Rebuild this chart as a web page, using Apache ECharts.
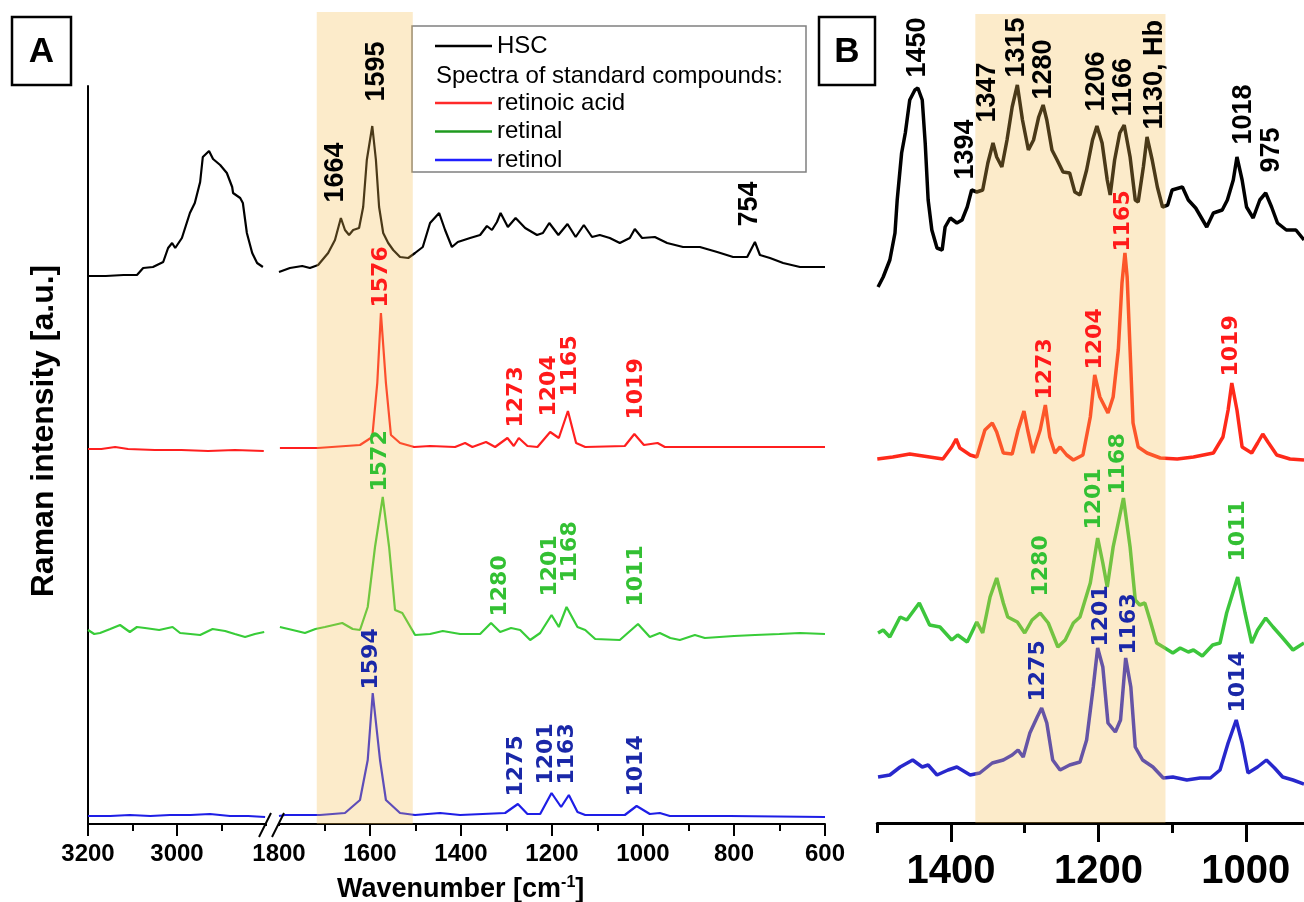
<!DOCTYPE html>
<html><head><meta charset="utf-8">
<script src="https://cdn.jsdelivr.net/npm/echarts/dist/echarts.min.js"></script>
<style>html,body{margin:0;padding:0;background:#fff}#c{width:1304px;height:902px}</style>
</head><body><div id="c"></div>
<script>
// ---------- data (wavenumber [cm-1], intensity [a.u.]) ----------
// Panel A, high-wavenumber segment (3200-2800)
const hscHiA = [[3200,548],[3160,548],[3120,549],[3090,549],[3076,556],[3054,557],[3031,562],[3020,576],[3011,581],[3004,576],[2989,586],[2971,611],[2960,621],[2948,642],[2942,667],[2928,673],[2919,665],[2903,659],[2888,651],[2876,637],[2874,631],[2858,626],[2852,621],[2843,591],[2831,571],[2820,561],[2807,557]];
const raHiA = [[3200,375],[3170,375],[3139,377],[3110,375],[3050,374],[2990,374],[2930,373],[2870,374],[2805,373]];
const rlHiA = [[3200,194],[3186,190],[3173,191],[3150,195],[3128,199],[3106,192],[3090,197],[3072,196],[3040,194],[3010,197],[2993,191],[2970,190],[2948,189],[2920,195],[2892,193],[2870,190],[2847,187],[2825,190],[2804,192]];
const roHiA = [[3200,8],[3150,8],[3106,9],[3060,8],[3016,9],[2970,9],[2926,10],[2881,8],[2840,8],[2802,7]];
// Panel A, fingerprint segment (1800-600)
const hscLoA = [[1800,552],[1776,556],[1749,558],[1732,556],[1714,559],[1692,571],[1677,584],[1664,606],[1655,594],[1646,589],[1637,594],[1624,596],[1615,617],[1607,664],[1595,698],[1587,664],[1580,617],[1571,591],[1560,581],[1549,574],[1534,567],[1516,566],[1501,571],[1484,577],[1468,601],[1448,611],[1435,594],[1420,577],[1407,582],[1380,586],[1358,589],[1343,598],[1332,594],[1321,602],[1313,611],[1297,597],[1280,606],[1259,596],[1233,589],[1220,591],[1206,601],[1186,589],[1166,600],[1148,587],[1130,599],[1112,587],[1095,589],[1073,586],[1051,581],[1029,586],[1018,595],[1002,586],[974,587],[947,581],[912,577],[875,577],[837,572],[802,567],[771,567],[754,582],[743,569],[721,566],[692,561],[655,557],[600,557]];
const raLoA = [[1798,376],[1715,376],[1622,379],[1595,387],[1584,441],[1576,511],[1565,441],[1554,389],[1534,381],[1503,377],[1468,378],[1413,377],[1391,381],[1375,377],[1345,382],[1325,377],[1298,386],[1284,378],[1273,386],[1254,378],[1232,377],[1204,392],[1185,386],[1165,413],[1147,381],[1127,377],[1040,378],[1019,390],[998,379],[968,381],[952,377],[809,377],[600,377]];
const rlLoA = [[1798,197],[1770,194],[1743,191],[1720,195],[1699,197],[1661,201],[1638,195],[1622,194],[1605,217],[1589,277],[1572,327],[1558,277],[1545,214],[1529,211],[1501,189],[1468,190],[1440,193],[1402,190],[1358,190],[1334,201],[1314,192],[1290,196],[1270,194],[1248,184],[1226,191],[1201,209],[1185,197],[1168,217],[1144,197],[1127,194],[1105,185],[1051,184],[1011,200],[985,187],[963,191],[940,186],[919,184],[886,189],[864,186],[800,188],[754,189],[700,190],[655,191],[600,190]];
const roLoA = [[1800,8],[1787,9],[1710,9],[1655,11],[1622,24],[1605,64],[1594,131],[1578,64],[1565,24],[1534,11],[1501,9],[1446,11],[1402,9],[1303,11],[1275,20],[1254,10],[1226,10],[1201,31],[1180,17],[1163,29],[1144,12],[1127,9],[1040,9],[1014,18],[985,10],[963,11],[941,8],[809,8],[600,7]];
// Panel B (1500-920)
const hscB = [[1499,536],[1492,546],[1483,563],[1476,590],[1473,623],[1467,670],[1462,690],[1456,723],[1449,733],[1445,735],[1439,723],[1435,680],[1431,623],[1426,593],[1419,575],[1412,573],[1408,596],[1401,605],[1392,600],[1385,603],[1378,616],[1372,633],[1365,631],[1357,633],[1350,660],[1343,680],[1338,666],[1331,656],[1324,683],[1317,716],[1310,738],[1303,703],[1295,673],[1288,683],[1281,706],[1275,718],[1270,703],[1263,673],[1256,663],[1248,651],[1239,650],[1232,631],[1225,628],[1216,653],[1208,683],[1202,697],[1195,680],[1188,643],[1184,628],[1178,663],[1171,690],[1165,698],[1157,666],[1150,623],[1146,621],[1139,656],[1134,686],[1127,663],[1120,636],[1113,616],[1106,618],[1100,633],[1086,636],[1078,623],[1068,615],[1053,596],[1044,610],[1032,613],[1025,623],[1017,643],[1012,666],[1005,643],[999,616],[990,605],[981,623],[973,630],[965,616],[957,600],[945,593],[932,593],[921,583]];
const raB = [[1500,364],[1479,366],[1456,369],[1429,366],[1411,364],[1399,376],[1393,384],[1388,375],[1374,368],[1365,366],[1354,393],[1344,400],[1338,391],[1329,370],[1317,369],[1309,393],[1301,412],[1296,393],[1289,370],[1279,393],[1272,418],[1266,386],[1259,370],[1252,376],[1243,368],[1234,363],[1221,368],[1211,406],[1205,448],[1198,426],[1187,410],[1180,426],[1173,473],[1168,540],[1164,570],[1161,546],[1157,473],[1153,400],[1146,376],[1134,370],[1116,365],[1093,364],[1071,366],[1044,370],[1031,386],[1024,413],[1019,440],[1012,413],[1005,376],[992,370],[984,380],[977,389],[970,381],[958,368],[940,364],[921,363]];
const rlB = [[1499,190],[1492,193],[1483,186],[1469,206],[1460,203],[1443,220],[1429,198],[1415,196],[1399,183],[1391,188],[1378,181],[1365,201],[1357,190],[1347,226],[1338,245],[1329,220],[1323,206],[1310,201],[1300,190],[1290,203],[1279,210],[1268,200],[1255,176],[1245,183],[1234,200],[1225,206],[1211,240],[1201,285],[1194,260],[1188,236],[1180,276],[1166,325],[1157,276],[1150,223],[1144,218],[1137,220],[1130,203],[1121,180],[1112,176],[1099,170],[1089,175],[1078,171],[1071,173],[1059,167],[1045,178],[1035,180],[1026,210],[1011,246],[1001,210],[992,180],[984,193],[973,205],[963,196],[951,186],[936,173],[921,180]];
const roB = [[1499,46],[1483,48],[1469,56],[1452,63],[1439,56],[1431,58],[1419,48],[1404,53],[1392,56],[1374,48],[1361,50],[1344,60],[1329,63],[1317,68],[1309,73],[1302,66],[1293,90],[1283,106],[1277,115],[1270,100],[1262,63],[1252,53],[1239,58],[1225,61],[1216,83],[1207,136],[1201,175],[1194,156],[1187,100],[1177,91],[1170,103],[1163,165],[1156,136],[1150,76],[1140,63],[1126,56],[1112,45],[1099,46],[1080,43],[1062,45],[1048,45],[1035,53],[1024,80],[1013,103],[1005,80],[997,50],[984,56],[972,63],[961,55],[950,46],[936,43],[921,39]];
// highlighted ranges
const bandA = [1717, 1506];
const bandB = [1367, 1109];
// peak annotations: [text, wavenumber, intensity at text start]
const lblA_hsc = [['1664',1675,621],['1595',1584,722],['754',765,597]];
const lblA_ra = [['1576',1575,516],['1273',1277,396],['1204',1204,407],['1165',1158,427],['1019',1013,404]];
const lblA_rl = [['1572',1576,332],['1280',1312,207],['1201',1202,227],['1168',1158,241],['1011',1013,217]];
const lblA_ro = [['1594',1596,134],['1275',1277,27],['1201',1211,39],['1163',1165,39],['1014',1013,27]];
const lblB_hsc = [['1450',1445,745],['1394',1380,643],['1347',1350,700],['1315',1310,745],['1280',1274,723],['1206',1202,711],['1166',1165,706],['1130, Hb',1123,693],['1018',1002,678],['975',964,650]];
const lblB_ra = [['1165',1165,571],['1273',1271,423],['1204',1203,453],['1019',1019,446]];
const lblB_rl = [['1280',1277,226],['1201',1205,293],['1168',1172,328],['1011',1009,261]];
const lblB_ro = [['1275',1281,121],['1201',1196,176],['1163',1158,168],['1014',1009,110]];
const names = ['HSC','retinoic acid','retinal','retinol'];

// ---------- chart ----------
const col = {hsc:'#000000', raA:'#ff1f1f', rlA:'#38cc38', roA:'#1e1ee6', raB:'#ff2a1a', rlB:'#3cc63c', roB:'#2828cc'};
const lblCol = {hsc:'#000000', ra:'#ff1a1a', rl:'#33c033', ro:'#1a28a8'};
function line(name, data, xi, color, width) {
  return {type:'line', name, data, xAxisIndex:xi, yAxisIndex:xi, symbol:'none', showSymbol:false,
    silent:true, lineStyle:{color, width}, itemStyle:{color}, z:2};
}
function labels(list, xi, color, family, size) {
  return {type:'scatter', xAxisIndex:xi, yAxisIndex:xi, z:20, silent:true, symbolSize:1,
    itemStyle:{color:'rgba(0,0,0,0)', opacity:1},
    data:list.map(l => ({name:l[0], value:[l[1], l[2]]})),
    label:{show:true, formatter:'{b}', position:[0,0], rotate:90, align:'left', verticalAlign:'middle',
      color, opacity:1, fontFamily:family, fontWeight:'bold', fontSize:size}};
}
function band(xi, r) {
  return {type:'line', xAxisIndex:xi, yAxisIndex:xi, data:[], silent:true,
    markArea:{silent:true, z:10, itemStyle:{color:'rgba(245,190,80,0.3)'}, data:[[{xAxis:r[0]},{xAxis:r[1]}]]}};
}
const tickFontA = {color:'#000', fontFamily:'Liberation Sans', fontWeight:'bold', fontSize:24};
function axA(gi, min, max, fmt) {
  return {type:'value', gridIndex:gi, inverse:true, min, max, interval:200,
    axisLine:{show:true, onZero:false, lineStyle:{color:'#000', width:2}},
    axisTick:{show:true, length:12, lineStyle:{color:'#000', width:2}},
    minorTick:{show:true, splitNumber:2, length:7, lineStyle:{color:'#000', width:2}},
    splitLine:{show:false}, minorSplitLine:{show:false},
    axisLabel:Object.assign({show:true, margin:18, showMinLabel:true, showMaxLabel:true, formatter:fmt}, tickFontA)};
}
const hidY = (gi, max) => ({type:'value', gridIndex:gi, show:false, min:0, max});
const gridBase = {containLabel:false, outerBoundsMode:'none'};
const legText = {color:'#000', fontFamily:'Liberation Sans', fontSize:24};
const blackFont = 'Liberation Sans', colFont = 'DejaVu Sans';
const legItem = (name, color) => ({name, icon:'rect', itemStyle:{color, borderWidth:0}});

const option = {
  animation:false, backgroundColor:'#fff',
  grid:[
    Object.assign({left:88, top:12, width:178, height:812}, gridBase),
    Object.assign({left:279, top:12, width:546, height:812}, gridBase),
    Object.assign({left:88, top:86, width:10, height:738}, gridBase),
    Object.assign({left:877.3, top:14, width:442.2, height:809}, gridBase),
    Object.assign({left:951, top:14, width:294.8, height:809}, gridBase)
  ],
  xAxis:[
    axA(0, 2800, 3200, v => v === 2800 ? '' : String(v)),
    axA(1, 600, 1800, v => String(v)),
    {type:'value', gridIndex:2, show:false},
    {type:'value', gridIndex:3, inverse:true, min:900, max:1500, interval:100,
      axisLine:{show:true, onZero:false, lineStyle:{color:'#000', width:3}},
      axisTick:{show:true, length:10, lineStyle:{color:'#000', width:3}},
      axisLabel:{show:false}, splitLine:{show:false}},
    {type:'value', gridIndex:4, inverse:true, min:1000, max:1400, interval:200,
      axisLine:{show:false}, axisTick:{show:true, length:19, lineStyle:{color:'#000', width:3}},
      splitLine:{show:false},
      axisLabel:{show:true, margin:29, showMinLabel:true, showMaxLabel:true, color:'#000',
        formatter:v => String(v), fontFamily:'Liberation Sans', fontWeight:'bold', fontSize:40}}
  ],
  yAxis:[
    hidY(0, 812), hidY(1, 812),
    {type:'value', gridIndex:2, min:0, max:1,
      axisLine:{show:true, lineStyle:{color:'#000', width:2}}, axisTick:{show:false},
      axisLabel:{show:false}, splitLine:{show:false},
      name:'Raman intensity [a.u.]', nameLocation:'middle', nameGap:28, nameRotate:90,
      nameTextStyle:{color:'#000', fontFamily:'Liberation Sans', fontWeight:'bold', fontSize:32, padding:[0,0,0,48]}},
    hidY(3, 809), hidY(4, 809)
  ],
  title:[{text:'Wavenumber [cm{sup|-1}]', left:332, top:870,
    textStyle:{color:'#000', fontFamily:'Liberation Sans', fontWeight:'bold', fontSize:27, lineHeight:30,
      rich:{sup:{color:'#000', fontFamily:'Liberation Sans', fontWeight:'bold', fontSize:16, lineHeight:16, verticalAlign:'top'}}}}],
  legend:[
    {data:[legItem(names[0], '#000')], left:435, top:34, orient:'vertical', padding:0,
      itemWidth:57, itemHeight:2.5, selectedMode:false, textStyle:legText},
    {data:[legItem(names[1], '#ff2a2a'), legItem(names[2], '#1f9a1f'), legItem(names[3], '#2020ff')],
      left:435, top:91, orient:'vertical', padding:0, itemGap:4.5,
      itemWidth:57, itemHeight:2.5, selectedMode:false, textStyle:legText}
  ],
  graphic:[
    {type:'rect', z:1, shape:{x:412, y:26, width:394, height:146}, style:{fill:'#fff', stroke:'#808080', lineWidth:1.5}},
    {type:'text', z:5, x:436, y:76, style:{text:'Spectra of standard compounds:', font:'24px "Liberation Sans"', fill:'#000', textVerticalAlign:'middle'}},
    {type:'rect', z:5, shape:{x:12, y:17, width:59, height:68}, style:{fill:'#fff', stroke:'#000', lineWidth:2.5}},
    {type:'text', z:6, x:41.5, y:52.5, style:{text:'A', font:'bold 35px "Liberation Sans"', fill:'#000', textAlign:'center', textVerticalAlign:'middle'}},
    {type:'rect', z:5, shape:{x:819, y:17, width:56, height:68}, style:{fill:'#fff', stroke:'#000', lineWidth:2.5}},
    {type:'text', z:6, x:847, y:52.5, style:{text:'B', font:'bold 35px "Liberation Sans"', fill:'#000', textAlign:'center', textVerticalAlign:'middle'}},
    {type:'rect', z:100, shape:{x:261, y:826, width:22, height:14}, style:{fill:'#fff'}},
    {type:'line', z:101, shape:{x1:259, y1:837, x2:271, y2:813}, style:{stroke:'#000', lineWidth:2}},
    {type:'line', z:101, shape:{x1:272, y1:837, x2:284, y2:813}, style:{stroke:'#000', lineWidth:2}}
  ],
  series:[
    line(names[0], hscHiA, 0, col.hsc, 2.2), line(names[0], hscLoA, 1, col.hsc, 2.2),
    line(names[1], raHiA, 0, col.raA, 2.2), line(names[1], raLoA, 1, col.raA, 2.2),
    line(names[2], rlHiA, 0, col.rlA, 2.2), line(names[2], rlLoA, 1, col.rlA, 2.2),
    line(names[3], roHiA, 0, col.roA, 2.2), line(names[3], roLoA, 1, col.roA, 2.2),
    line(names[0], hscB, 3, col.hsc, 3.5), line(names[1], raB, 3, col.raB, 3.5),
    line(names[2], rlB, 3, col.rlB, 3.5), line(names[3], roB, 3, col.roB, 3.5),
    band(1, bandA), band(3, bandB),
    labels(lblA_hsc, 1, lblCol.hsc, blackFont, 27), labels(lblA_ra, 1, lblCol.ra, colFont, 22),
    labels(lblA_rl, 1, lblCol.rl, colFont, 22), labels(lblA_ro, 1, lblCol.ro, colFont, 22),
    labels(lblB_hsc, 3, lblCol.hsc, blackFont, 27), labels(lblB_ra, 3, lblCol.ra, colFont, 22),
    labels(lblB_rl, 3, lblCol.rl, colFont, 22), labels(lblB_ro, 3, lblCol.ro, colFont, 22)
  ]
};
const chart = echarts.init(document.getElementById('c'), null, {renderer:'canvas'});
chart.setOption(option);
</script></body></html>
